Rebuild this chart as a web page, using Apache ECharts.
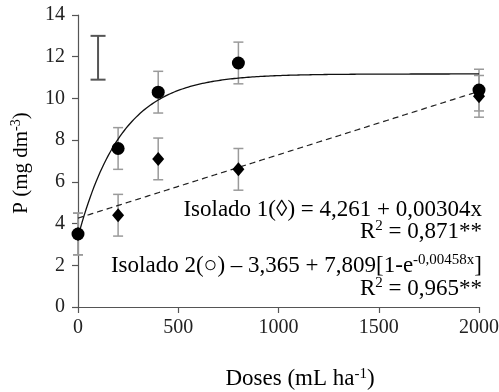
<!DOCTYPE html>
<html>
<head>
<meta charset="utf-8">
<script src="https://cdn.jsdelivr.net/npm/echarts@6/dist/echarts.min.js"></script>
<style>
  html, body { margin: 0; padding: 0; background: #fff; }
  #chart { width: 499px; height: 392px; }
</style>
</head>
<body>
<div id="chart"></div>
<script>
// Doses (mL ha-1) and soil P (mg dm-3) for the two isolates
const doses = [0, 200, 400, 800, 2000];
const isolado1 = [3.5, 4.4, 7.1, 6.6, 10.1];   // diamonds
const isolado2 = [3.5, 7.6, 10.3, 11.7, 10.4]; // circles
const err1 = [1.0, 1.0, 1.0, 1.0, 1.0];
const err2 = [1.0, 1.0, 1.0, 1.0, 1.0];
// least significant difference bar
const lsdX = 100;
const lsdLow = 10.9;
const lsdHigh = 13.0;
const xTicks = [0, 500, 1000, 1500, 2000];
const yTicks = [0, 2, 4, 6, 8, 10, 12, 14];

// fitted models printed on the chart
const fit1 = { a: 4.261, b: 0.00304 };
const fit2 = { a: 3.365, b: 7.809, k: 0.00458 };

const fitLine1 = [];
const fitLine2 = [];
for (let x = 0; x <= 2000; x += 10) {
  fitLine1.push([x, fit1.a + fit1.b * x]);
  fitLine2.push([x, fit2.a + fit2.b * (1 - Math.exp(-fit2.k * x))]);
}

const serif = 'Liberation Serif';

function errorBarSeries(values, errs, color, capW, lineW) {
  return {
    type: 'custom',
    z: 2,
    silent: true,
    data: values.map((v, i) => [doses[i], v - errs[i], v + errs[i]]),
    renderItem: function (params, api) {
      const lo = api.coord([api.value(0), api.value(1)]);
      const hi = api.coord([api.value(0), api.value(2)]);
      const st = { stroke: color, lineWidth: lineW };
      return {
        type: 'group',
        children: [
          { type: 'line', shape: { x1: lo[0], y1: lo[1], x2: hi[0], y2: hi[1] }, style: st },
          { type: 'line', shape: { x1: lo[0] - capW / 2, y1: lo[1], x2: lo[0] + capW / 2, y2: lo[1] }, style: st },
          { type: 'line', shape: { x1: hi[0] - capW / 2, y1: hi[1], x2: hi[0] + capW / 2, y2: hi[1] }, style: st }
        ]
      };
    }
  };
}

// tick labels in the serif face, placed through the axis scales
function tickLabelSeries(isX) {
  const ticks = isX ? xTicks : yTicks;
  return {
    type: 'custom',
    z: 1,
    silent: true,
    clip: false,
    data: ticks.map(v => (isX ? [v, yTicks[0]] : [xTicks[0], v])),
    renderItem: function (params, api) {
      const p = api.coord([api.value(0), api.value(1)]);
      const label = String(isX ? api.value(0) : api.value(1));
      return {
        type: 'text',
        x: isX ? p[0] : p[0] - 13,
        y: isX ? p[1] + 21 : p[1],
        style: {
          text: label,
          font: '20px "Liberation Serif"',
          fill: '#222',
          align: isX ? 'center' : 'right',
          verticalAlign: 'middle'
        }
      };
    }
  };
}

const chart = echarts.init(document.getElementById('chart'), null, { renderer: 'canvas' });

const richStyles = {
  n: { fontFamily: serif, fontSize: 23, color: '#111', lineHeight: 25 },
  s: { fontFamily: serif, fontSize: 15, color: '#111', lineHeight: 15, verticalAlign: 'top' }
};
const axisNameRich = {
  n: { fontFamily: serif, fontSize: 21, color: '#111', lineHeight: 23 },
  s: { fontFamily: serif, fontSize: 14, color: '#111', lineHeight: 14, verticalAlign: 'top' }
};

chart.setOption({
  animation: false,
  backgroundColor: '#fff',
  textStyle: { fontFamily: serif },
  grid: { left: 78, right: 20, top: 15, bottom: 85 },
  xAxis: {
    type: 'value',
    min: xTicks[0],
    max: xTicks[xTicks.length - 1],
    interval: 500,
    axisLine: { lineStyle: { color: '#555', width: 1.2 } },
    axisTick: { show: true, length: 6, lineStyle: { color: '#555', width: 1.2 } },
    axisLabel: { show: false },
    splitLine: { show: false }
  },
  yAxis: {
    type: 'value',
    min: yTicks[0],
    max: yTicks[yTicks.length - 1],
    interval: 2,
    axisLine: { show: true, lineStyle: { color: '#555', width: 1.2 } },
    axisTick: { show: true, length: 6, lineStyle: { color: '#555', width: 1.2 } },
    axisLabel: { show: false },
    splitLine: { show: false }
  },
  series: [
    tickLabelSeries(true),
    tickLabelSeries(false),
    errorBarSeries(isolado2, err2, '#9a9a9a', 10, 1.5),
    errorBarSeries(isolado1, err1, '#9a9a9a', 10, 1.5),
    {
      type: 'custom',
      z: 2,
      silent: true,
      data: [[lsdX, lsdLow, lsdHigh]],
      renderItem: function (params, api) {
        const lo = api.coord([api.value(0), api.value(1)]);
        const hi = api.coord([api.value(0), api.value(2)]);
        const st = { stroke: '#555', lineWidth: 2 };
        const w = 15;
        return {
          type: 'group',
          children: [
            { type: 'line', shape: { x1: lo[0], y1: lo[1], x2: hi[0], y2: hi[1] }, style: st },
            { type: 'line', shape: { x1: lo[0] - w / 2, y1: lo[1], x2: lo[0] + w / 2, y2: lo[1] }, style: st },
            { type: 'line', shape: { x1: hi[0] - w / 2, y1: hi[1], x2: hi[0] + w / 2, y2: hi[1] }, style: st }
          ]
        };
      }
    },
    {
      name: 'Isolado 1 ajuste',
      type: 'line',
      z: 3,
      data: fitLine1,
      showSymbol: false,
      lineStyle: { color: '#222', width: 1.2, type: [6, 4] }
    },
    {
      name: 'Isolado 2 ajuste',
      type: 'line',
      z: 3,
      data: fitLine2,
      showSymbol: false,
      lineStyle: { color: '#111', width: 1.3 }
    },
    {
      name: 'Isolado 1',
      type: 'scatter',
      z: 4,
      symbol: 'path://M0,-1L0.85,0L0,1L-0.85,0Z',
      symbolSize: [12, 14],
      itemStyle: { color: '#000', opacity: 1 },
      data: doses.map((d, i) => [d, isolado1[i]])
    },
    {
      name: 'Isolado 2',
      type: 'scatter',
      z: 5,
      symbol: 'circle',
      symbolSize: 13,
      itemStyle: { color: '#000', opacity: 1 },
      data: doses.map((d, i) => [d, isolado2[i]])
    }
  ],
  graphic: [
    {
      type: 'text', right: 17, top: 198,
      style: { text: '{n|Isolado 1(\u25CA) = 4,261 + 0,00304x}', rich: richStyles }
    },
    {
      type: 'text', right: 17, top: 219,
      style: { text: '{n|R}{s|2}{n| = 0,871**}', rich: richStyles }
    },
    {
      type: 'text', right: 17, top: 253,
      style: { text: '{n|Isolado 2(\u25CB) \u2013 3,365 + 7,809[1-e}{s|-0,00458x}{n|]}', rich: richStyles }
    },
    {
      type: 'text', right: 17, top: 276,
      style: { text: '{n|R}{s|2}{n| = 0,965**}', rich: richStyles }
    },
    {
      type: 'text', x: 300, y: 379,
      style: {
        text: '{n|Doses (mL ha}{s|-1}{n|)}', rich: richStyles,
        textAlign: 'center', textVerticalAlign: 'middle'
      }
    },
    {
      type: 'text', x: 21, y: 163, rotation: Math.PI / 2,
      style: {
        text: '{n|P (mg dm}{s|-3}{n|)}', rich: axisNameRich,
        textAlign: 'center', textVerticalAlign: 'middle'
      }
    }
  ]
});
</script>
</body>
</html>
